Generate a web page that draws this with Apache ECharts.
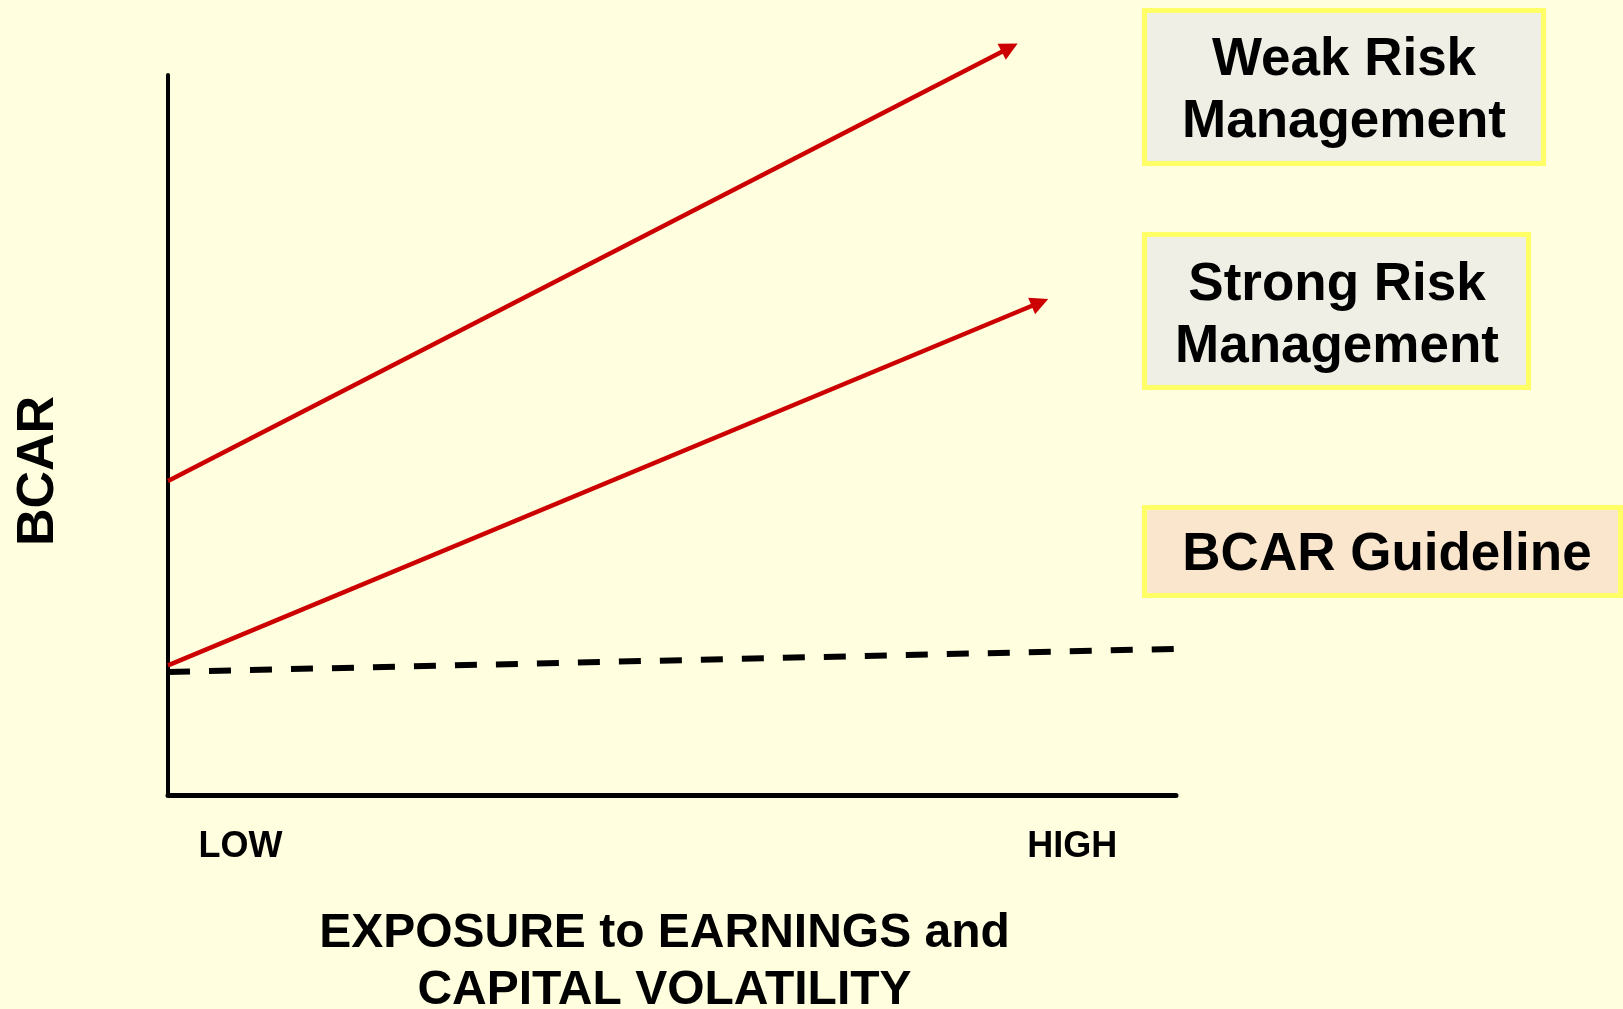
<!DOCTYPE html>
<html>
<head>
<meta charset="utf-8">
<script src="https://cdn.jsdelivr.net/npm/echarts@6/dist/echarts.min.js"></script>
<style>
  html, body { margin: 0; padding: 0; background: #FFFFE0; }
  #chart { width: 1623px; height: 1009px; }
</style>
</head>
<body>
<div id="chart"></div>
<script>
// values (x: 0..100 low->high, y: 0..100 axis height)
const weakX = [0, 83.5];
const weakY = [43.6, 103.8];
const strongX = [0, 86.5];
const strongY = [18.0, 68.4];
const guideX = [0, 100];
const guideY = [17.1, 20.3];
const xTickValues = [7.2, 89.7];
const xTickLabels = ['LOW', 'HIGH'];
const boxLabels = ['Weak Risk\nManagement', 'Strong Risk\nManagement', 'BCAR Guideline'];

const FONT = '"Liberation Sans", Arial, sans-serif';

const chart = echarts.init(document.getElementById('chart'), null, { renderer: 'canvas' });

function pairs(xs, ys) {
  return xs.map((x, i) => [x, ys[i]]);
}

// 盒子
function box(x, y, w, h, fill, label, cx, cy) {
  return [{
    type: 'rect',
    shape: { x: x, y: y, width: w, height: h },
    style: { fill: fill, stroke: '#FFFF66', lineWidth: 5 }
  }, {
    type: 'text',
    style: {
      text: label, x: cx, y: cy,
      font: 'bold 53px ' + FONT,
      lineHeight: 62,
      textAlign: 'center', textVerticalAlign: 'middle',
      fill: '#000'
    }
  }];
}

const option = {
  backgroundColor: '#FFFFE0',
  animation: false,
  grid: { left: 168, top: 75, right: 447, bottom: 214, containLabel: false, outerBoundsMode: 'none' },
  xAxis: {
    type: 'value', min: 0, max: 100,
    splitLine: { show: false },
    axisTick: { show: false },
    axisLine: { lineStyle: { color: '#000', width: 5 } },
    axisLabel: {
      customValues: xTickValues,
      formatter: v => xTickLabels[xTickValues.indexOf(v)] || '',
      margin: 34,
      color: '#000',
      fontFamily: FONT, fontWeight: 'bold', fontSize: 36,
      showMinLabel: true, showMaxLabel: true
    },
    name: 'EXPOSURE to EARNINGS and\nCAPITAL VOLATILITY',
    nameLocation: 'middle',
    nameGap: 110,
    nameTextStyle: {
      color: '#000', fontFamily: FONT, fontWeight: 'bold', fontSize: 48,
      lineHeight: 57, padding: [0, 15, 0, 0]
    }
  },
  yAxis: {
    type: 'value', min: 0, max: 100,
    splitLine: { show: false },
    axisTick: { show: false },
    axisLabel: { show: false },
    axisLine: { lineStyle: { color: '#000', width: 4 } },
    name: 'BCAR',
    nameLocation: 'middle',
    nameRotate: 90,
    nameGap: 103,
    nameTextStyle: {
      color: '#000', fontFamily: FONT, fontWeight: 'bold', fontSize: 52,
      padding: [0, 72, 0, 0]
    }
  },
  series: [{
    name: 'BCAR Guideline',
    type: 'line',
    data: pairs(guideX, guideY),
    symbol: 'none',
    lineStyle: { color: '#000', width: 6, type: [22, 19] },
    z: 3
  }, {
    name: 'Weak Risk Management',
    type: 'lines',
    coordinateSystem: 'cartesian2d',
    clip: false,
    symbol: ['none', 'triangle'],
    symbolSize: 18,
    lineStyle: { color: '#CC0000', width: 4.5, opacity: 1 },
    data: [{ coords: pairs(weakX, weakY) }],
    z: 4
  }, {
    name: 'Strong Risk Management',
    type: 'lines',
    coordinateSystem: 'cartesian2d',
    clip: false,
    symbol: ['none', 'triangle'],
    symbolSize: 18,
    lineStyle: { color: '#CC0000', width: 4.5, opacity: 1 },
    data: [{ coords: pairs(strongX, strongY) }],
    z: 4
  }],
  graphic: [].concat(
    box(1144.5, 10.5, 399, 153, '#EFEFE6', boxLabels[0], 1344, 91),
    box(1144.5, 234.5, 384, 153, '#EFEFE6', boxLabels[1], 1337, 316),
    box(1144.5, 507.5, 476, 88, '#FAE5CD', boxLabels[2], 1387, 555)
  )
};

chart.setOption(option);
</script>
</body>
</html>
